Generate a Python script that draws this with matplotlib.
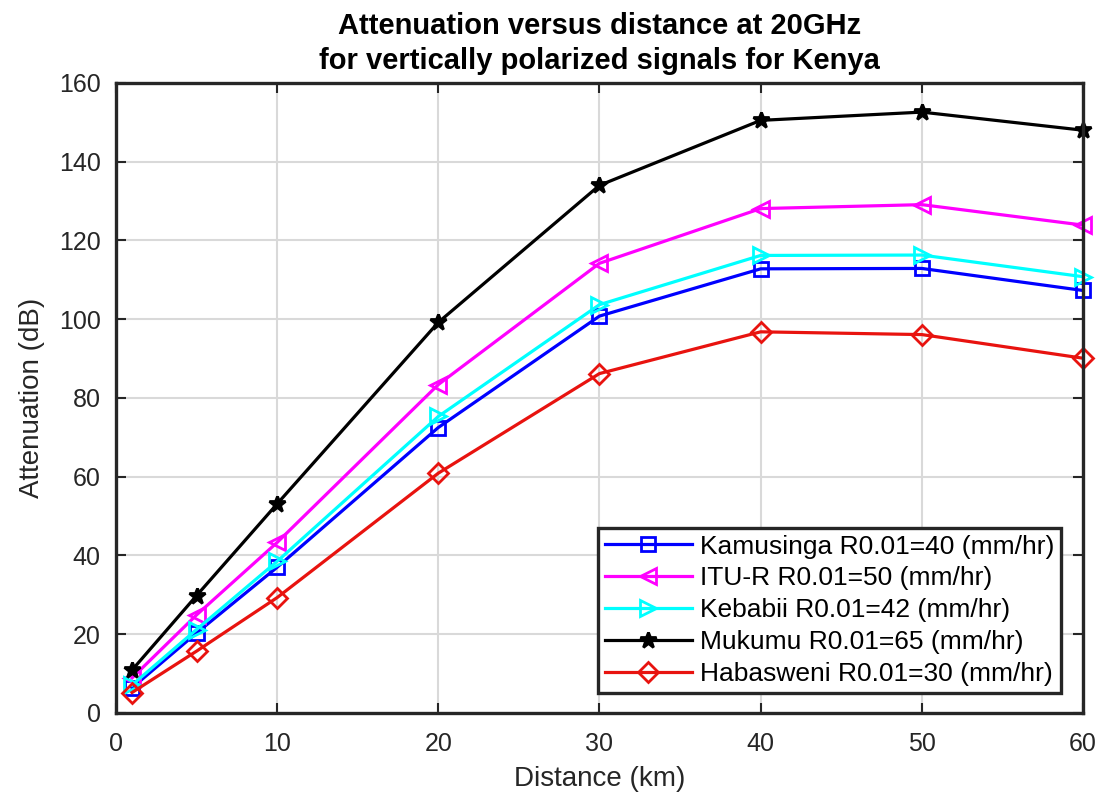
import numpy as np
import matplotlib.pyplot as plt

plt.rcParams['font.family'] = ['Liberation Sans', 'DejaVu Sans']

# distance (km)
distance = [1, 5, 10, 20, 30, 40, 50, 60]

# attenuation (dB) for each rain rate model
kamusinga = [6.4, 20.3, 37.0, 72.5, 100.8, 112.8, 112.9, 107.3]
itu_r = [8.9, 24.9, 43.3, 83.4, 114.2, 128.1, 129.1, 123.9]
kebabii = [7.1, 21.2, 38.5, 75.3, 103.7, 116.2, 116.3, 110.8]
mukumu = [10.9, 29.8, 53.1, 99.2, 134.0, 150.5, 152.6, 148.0]
habasweni = [5.2, 15.7, 29.3, 60.9, 86.2, 96.8, 96.1, 90.1]

labels = ["Kamusinga R0.01=40 (mm/hr)", "ITU-R R0.01=50 (mm/hr)",
          "Kebabii R0.01=42 (mm/hr)", "Mukumu R0.01=65 (mm/hr)",
          "Habasweni R0.01=30 (mm/hr)"]

fig = plt.figure(figsize=(11.04, 7.97), dpi=100)
ax = fig.add_axes([0.105, 0.1054, 0.876, 0.7905])

lw = 2.3
style = dict(lw=lw, mew=2.0, clip_on=False)
ax.plot(distance, kamusinga, color="#0000ff", marker="s", ms=10, mfc="none",
        label=labels[0], **style)
ax.plot(distance, itu_r, color="#ff00ff", marker="<", ms=12, mfc="none",
        label=labels[1], **style)
ax.plot(distance, kebabii, color="#00ffff", marker=">", ms=12, mfc="none",
        label=labels[2], **style)
ax.plot(distance, mukumu, color="black", marker="*", ms=12, mfc="black",
        label=labels[3], **style)
ax.plot(distance, habasweni, color="#e8130f", marker="D", ms=10, mfc="none",
        label=labels[4], **style)

ax.set_xlim(0, 60)
ax.set_ylim(0, 160)
ax.set_xticks([0, 10, 20, 30, 40, 50, 60])
ax.set_yticks(np.arange(0, 161, 20))
ax.grid(True, color="#d9d9d9", lw=1.5)
ax.set_axisbelow(True)
ax.tick_params(direction="in", top=True, right=True, length=7, width=1.5,
               labelsize=18, colors="#262626")
ax.tick_params(axis="x", pad=14)
ax.tick_params(axis="y", pad=11)
for s in ax.spines.values():
    s.set_linewidth(2.4)
    s.set_color("#262626")

ax.set_xlabel("Distance (km)", fontsize=20, color="#262626", labelpad=7)
ax.set_ylabel("Attenuation (dB)", fontsize=20, color="#262626", labelpad=10)
ax.set_title("Attenuation versus distance at 20GHz\nfor vertically polarized signals for Kenya",
             fontsize=21, fontweight="bold", pad=10, linespacing=1.3)

leg = ax.legend(loc="lower right", bbox_to_anchor=(0.977, 0.032),
                borderaxespad=0, fontsize=19, handlelength=3.3,
                handletextpad=0.3, labelspacing=0.3, fancybox=False,
                framealpha=1, borderpad=0.25)
leg.get_frame().set_edgecolor("#262626")
leg.get_frame().set_linewidth(2.4)

fig.savefig("out.png", dpi=100)
